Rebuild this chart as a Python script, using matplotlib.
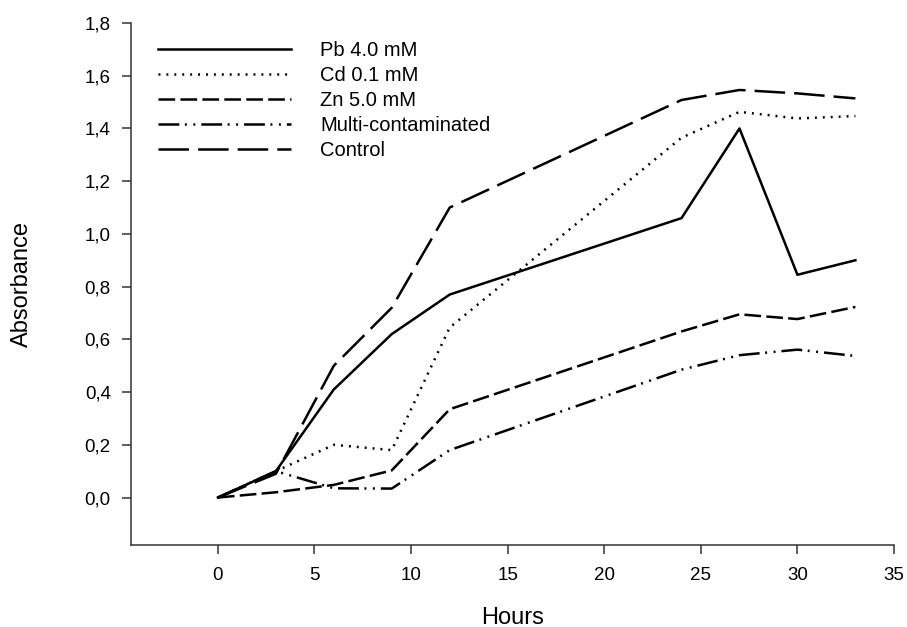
import numpy as np
import matplotlib as mpl
import matplotlib.pyplot as plt
from matplotlib.ticker import FuncFormatter

mpl.rcParams['font.family'] = ['Liberation Sans', 'DejaVu Sans']
mpl.rcParams['lines.scale_dashes'] = False

hours = [0, 3, 6, 9, 12, 24, 27, 30, 33]
pb = [0, 0.10, 0.41, 0.62, 0.77, 1.06, 1.40, 0.845, 0.90]
cd = [0, 0.10, 0.20, 0.18, 0.645, 1.365, 1.463, 1.438, 1.447]
zn = [0, 0.02, 0.048, 0.103, 0.335, 0.63, 0.695, 0.677, 0.723]
multi = [0, 0.10, 0.035, 0.034, 0.18, 0.485, 0.54, 0.561, 0.537]
control = [0, 0.09, 0.50, 0.72, 1.10, 1.508, 1.546, 1.533, 1.514]

labels = ['Pb 4.0 mM', 'Cd 0.1 mM', 'Zn 5.0 mM', 'Multi-contaminated', 'Control']
styles = [
    '-',
    (0, (1.4, 4.3)),
    (0, (12, 3.8)),
    (0, (15, 4, 1.4, 4.7, 1.4, 4.3)),
    (0, (22, 6.5)),
]

fig = plt.figure(figsize=(9.07, 6.27), dpi=100)
ax = fig.add_axes([0.1444, 0.1308, 0.8413, 0.8325])

for vals, lab, ls in zip([pb, cd, zn, multi, control], labels, styles):
    ax.plot(hours, vals, color='black', linestyle=ls, linewidth=1.8, label=lab)

ax.set_xlim(-4.5, 35)
ax.set_ylim(-0.18, 1.8)
ax.set_xticks(np.arange(0, 36, 5))
ax.set_yticks(np.arange(0, 1.81, 0.2))
ax.yaxis.set_major_formatter(FuncFormatter(lambda v, p: ('%.1f' % v).replace('.', ',')))

for s in ['top', 'right']:
    ax.spines[s].set_visible(False)
for s in ['left', 'bottom']:
    ax.spines[s].set_linewidth(1.1)
    ax.spines[s].set_color('#333333')
ax.tick_params(direction='out', length=6.5, width=1.1, color='#333333',
               labelsize=13.5)
ax.tick_params(axis='x', pad=9)
ax.tick_params(axis='y', pad=8)

ax.set_xlabel('Hours', fontsize=17)
ax.set_ylabel('Absorbance', fontsize=17)
ax.xaxis.set_label_coords(0.5, -0.118)
ax.yaxis.set_label_coords(-0.128, 0.5)

ax.legend(loc='upper left', bbox_to_anchor=(0.0354, 0.966), frameon=False,
          fontsize=14.5, handlelength=6.6, handletextpad=1.45,
          labelspacing=0.3, borderpad=0, borderaxespad=0)

fig.savefig('out.png', dpi=100)
